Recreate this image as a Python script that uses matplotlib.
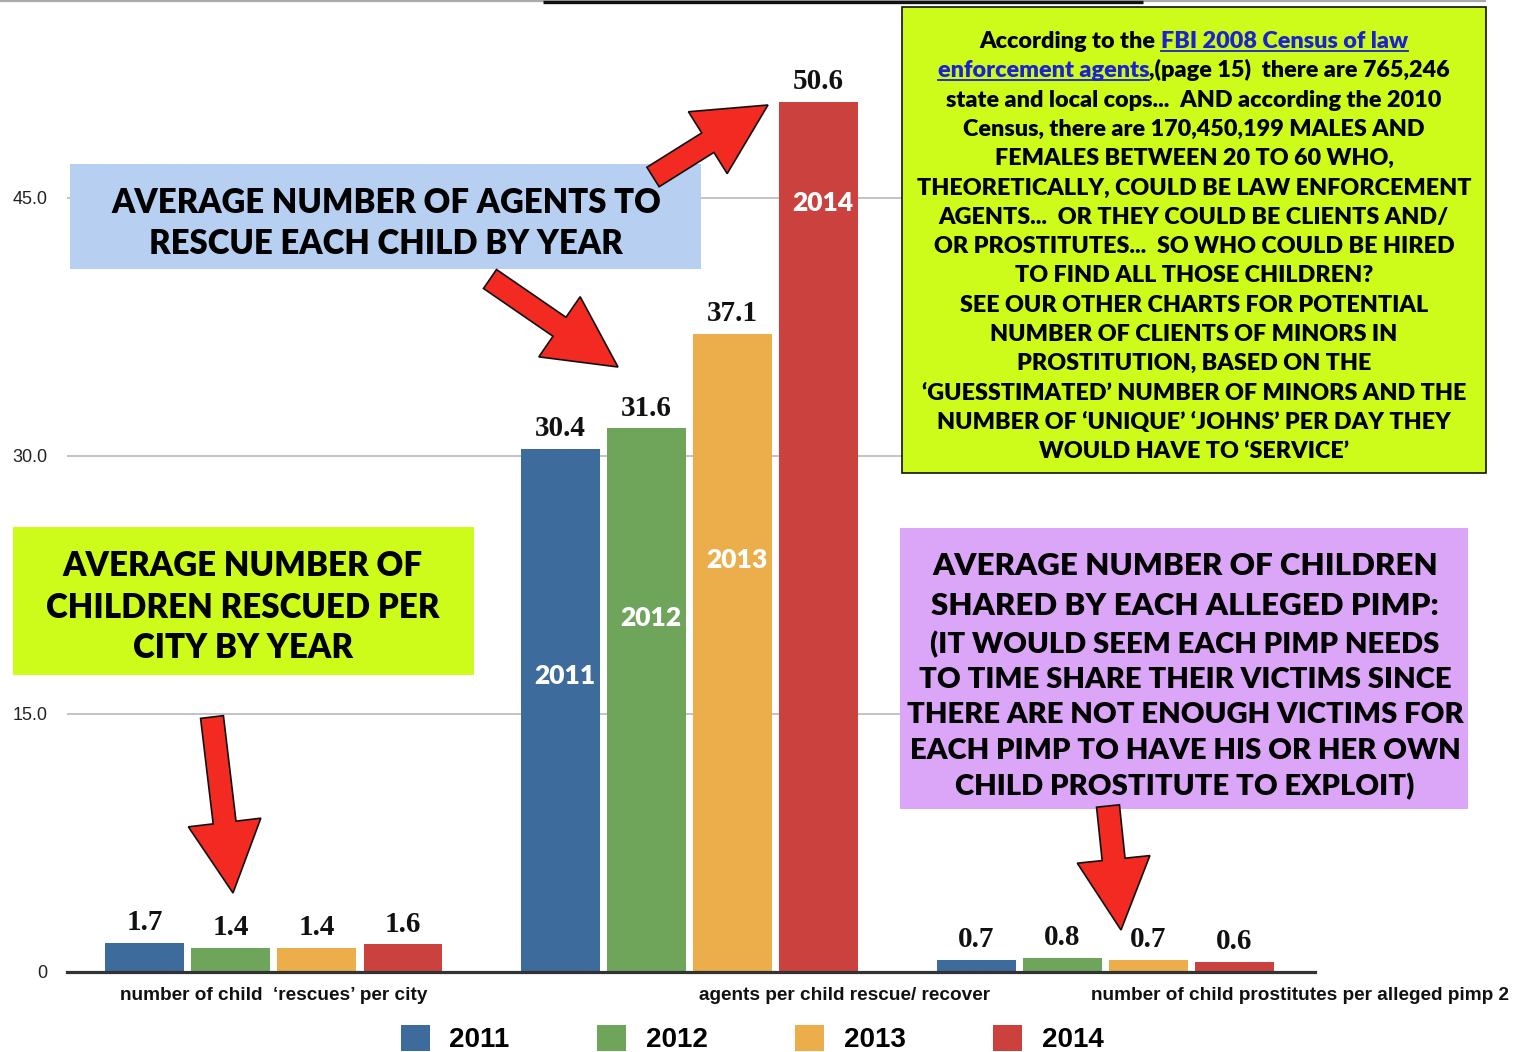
import matplotlib
matplotlib.use('Agg')
import matplotlib.pyplot as plt
from matplotlib.patches import Rectangle, FancyArrow
import numpy as np

# ---------------- data ----------------
categories = ["number of child  \u2018rescues\u2019 per city",
              "agents per child rescue/ recover",
              "number of child prostitutes per alleged pimp 2"]
years = ["2011", "2012", "2013", "2014"]
v2011 = [1.7, 30.4, 0.7]
v2012 = [1.4, 31.6, 0.8]
v2013 = [1.4, 37.1, 0.7]
v2014 = [1.6, 50.6, 0.6]
series = [v2011, v2012, v2013, v2014]
yticks = [0, 15, 30, 45]
ytick_labels = ["0", "15.0", "30.0", "45.0"]
colors = ["#3d6b9b", "#6ea55a", "#ecae4b", "#ca413e"]

# ---------------- layout ----------------
W, H = 1515, 1052
fig = plt.figure(figsize=(W / 100, H / 100), dpi=100)
fig.patch.set_facecolor('white')

ax = fig.add_axes([67 / W, (H - 972) / H, (1315 - 67) / W, 971 / H])
ax.set_facecolor('none')
x = np.arange(len(categories))
step = 0.207
bw = 0.19
bars = []
for i, (vals, col) in enumerate(zip(series, colors)):
    b = ax.bar(x + (i - 1.5) * step, vals, width=bw, color=col, zorder=3,
               label=years[i])
    bars.append(b)
    ax.bar_label(b, fmt='%.1f', padding=5, fontfamily='Liberation Serif',
                 fontweight='bold', fontsize=21, color='#111111', zorder=4)

ax.set_xlim(-0.498, 2.505)
ax.set_ylim(0, 971 / 17.2)
ax.set_yticks(yticks)
ax.set_yticklabels(ytick_labels, fontfamily='Liberation Sans', fontsize=13,
                   color='#222222')
ax.tick_params(axis='y', length=0, pad=14)
ax.grid(axis='y', color='#b9b9b9', linewidth=1.2, zorder=0)
ax.set_axisbelow(True)
for s in ['top', 'right', 'left']:
    ax.spines[s].set_visible(False)
ax.spines['bottom'].set_color('#333333')
ax.spines['bottom'].set_linewidth(2.3)
ax.spines['bottom'].set_zorder(5)
# category labels (offset as in the original)
ax.set_xticks([0.0, 1.374, 2.47])
ax.set_xticklabels(categories, fontfamily='Liberation Sans', fontweight='bold',
                   fontsize=13.7, color='#111111')
ax.tick_params(axis='x', length=0, pad=11)

# year labels inside the middle group bars
inner_y = [17.2, 20.6, 23.95, 44.7]
for i in range(4):
    ax.text(1 + (i - 1.5) * step + 0.01, inner_y[i], years[i], color='white',
            fontfamily='Lato', fontweight='heavy', fontsize=19,
            ha='center', va='center', zorder=6)

# legend
fig.legend(handles=bars, labels=years, ncol=4, loc='upper center',
           bbox_to_anchor=(752 / W, 1 - 1025 / H), frameon=False,
           prop={'family': 'Liberation Sans', 'weight': 'bold', 'size': 20},
           handlelength=1.05, handleheight=1.05, handletextpad=0.7,
           columnspacing=3.15, borderpad=0, borderaxespad=0)

# ---------------- overlay (pixel coordinates) ----------------
ov = fig.add_axes([0, 0, 1, 1])
ov.set_xlim(0, W)
ov.set_ylim(H, 0)
ov.axis('off')
ov.set_facecolor('none')
ov.set_zorder(10)

# top rules
ov.plot([0, 1486], [1, 1], color='#aaaaaa', lw=1.6, solid_capstyle='butt')
ov.plot([543, 1143], [1.5, 1.5], color='#111111', lw=2.4, solid_capstyle='butt')

renderer = fig.canvas.get_renderer()
FONT = 'Lato'
WEIGHT = 'heavy'


def width_of(s, size, weight=WEIGHT, family=FONT):
    t = ov.text(0, 0, s, fontsize=size, fontweight=weight, fontfamily=family)
    w = t.get_window_extent(renderer).width
    t.remove()
    return w


def fit(s, target, base=20):
    return base * target / width_of(s, base)


def block(lines, cx, baselines, size, color='black'):
    for s, yb in zip(lines, baselines):
        ov.text(cx, yb, s, fontsize=size, fontweight=WEIGHT, fontfamily=FONT,
                ha='center', va='baseline', color=color, zorder=12)


# blue box
ov.add_patch(Rectangle((70, 164), 631, 105, facecolor='#b7cff1',
                       edgecolor='none', zorder=11))
blue_lines = ["AVERAGE NUMBER OF AGENTS TO", "RESCUE EACH CHILD BY YEAR"]
sz = fit(blue_lines[0], 550)
block(blue_lines, 386, [213, 254], sz)

# left green box
ov.add_patch(Rectangle((13, 527), 461, 148, facecolor='#cdfb1a',
                       edgecolor='none', zorder=11))
green_lines = ["AVERAGE NUMBER OF", "CHILDREN RESCUED PER", "CITY BY YEAR"]
sz = fit(green_lines[1], 393)
block(green_lines, 243, [576, 618, 658], sz)

# purple box
ov.add_patch(Rectangle((900, 528), 568, 281, facecolor='#dca6f8',
                       edgecolor='none', zorder=11))
p_head = ["AVERAGE NUMBER OF CHILDREN", "SHARED BY EACH ALLEGED PIMP:"]
p_body = ["(IT WOULD SEEM EACH PIMP NEEDS", "TO TIME SHARE THEIR VICTIMS SINCE",
          "THERE ARE NOT ENOUGH VICTIMS FOR", "EACH PIMP TO HAVE HIS OR HER OWN",
          "CHILD PROSTITUTE TO EXPLOIT)"]
sz = fit(p_head[0], 506)
block(p_head, 1185, [575, 615], sz)
sz = fit(p_body[3], 550)
block(p_body, 1185, [653, 688, 723, 759, 795], sz)

# FBI box
ov.add_patch(Rectangle((902, 7), 584, 466, facecolor='#cdfb1a',
                       edgecolor='#111111', lw=1.2, zorder=11))
fbi_lines = [
    "According to the FBI 2008 Census of law",
    "enforcement agents,(page 15)  there are 765,246",
    "state and local cops...  AND according the 2010",
    "Census, there are 170,450,199 MALES AND",
    "FEMALES BETWEEN 20 TO 60 WHO,",
    "THEORETICALLY, COULD BE LAW ENFORCEMENT",
    "AGENTS...  OR THEY COULD BE CLIENTS AND/",
    "OR PROSTITUTES...  SO WHO COULD BE HIRED",
    "TO FIND ALL THOSE CHILDREN?",
    "SEE OUR OTHER CHARTS FOR POTENTIAL",
    "NUMBER OF CLIENTS OF MINORS IN",
    "PROSTITUTION, BASED ON THE",
    "\u2018GUESSTIMATED\u2019 NUMBER OF MINORS AND THE",
    "NUMBER OF \u2018UNIQUE\u2019 \u2018JOHNS\u2019 PER DAY THEY",
    "WOULD HAVE TO \u2018SERVICE\u2019",
]
fsz = fit(fbi_lines[5], 555)
cx = 1194
bl = [48 + 29.3 * i for i in range(len(fbi_lines))]
LINK = '#1b22d0'


def underline(t, yb):
    e = t.get_window_extent(renderer)
    ov.plot([e.x0, e.x1], [yb + 3, yb + 3], color=LINK, lw=1.3, zorder=12)


# line 1: black + link
wf = width_of(fbi_lines[0], fsz)
lx = cx - wf / 2
ov.text(lx, bl[0], "According to the", fontsize=fsz, fontweight=WEIGHT,
        fontfamily=FONT, ha='left', va='baseline', color='black', zorder=12)
t = ov.text(lx + wf, bl[0], "FBI 2008 Census of law", fontsize=fsz,
            fontweight=WEIGHT, fontfamily=FONT, ha='right', va='baseline',
            color=LINK, zorder=12)
underline(t, bl[0])
# line 2: link + black
wf = width_of(fbi_lines[1], fsz)
lx = cx - wf / 2
t = ov.text(lx, bl[1], "enforcement agents", fontsize=fsz, fontweight=WEIGHT,
            fontfamily=FONT, ha='left', va='baseline', color=LINK, zorder=12)
underline(t, bl[1])
ov.text(lx + wf, bl[1], ",(page 15)  there are 765,246", fontsize=fsz,
        fontweight=WEIGHT, fontfamily=FONT, ha='right', va='baseline',
        color='black', zorder=12)
block(fbi_lines[2:], cx, bl[2:], fsz)

# arrows
arrows = [((653, 177), (768, 105)), ((490, 279), (618, 367)),
          ((212, 717), (233, 893)), ((1108, 806), (1121, 930))]
for (x0, y0), (x1, y1) in arrows:
    ov.add_patch(FancyArrow(x0, y0, x1 - x0, y1 - y0, width=23,
                            head_width=73, head_length=71,
                            length_includes_head=True, facecolor='#f32a21',
                            edgecolor='#111111', lw=1.2, zorder=13))

fig.savefig('out.png', dpi=100, facecolor='white')
